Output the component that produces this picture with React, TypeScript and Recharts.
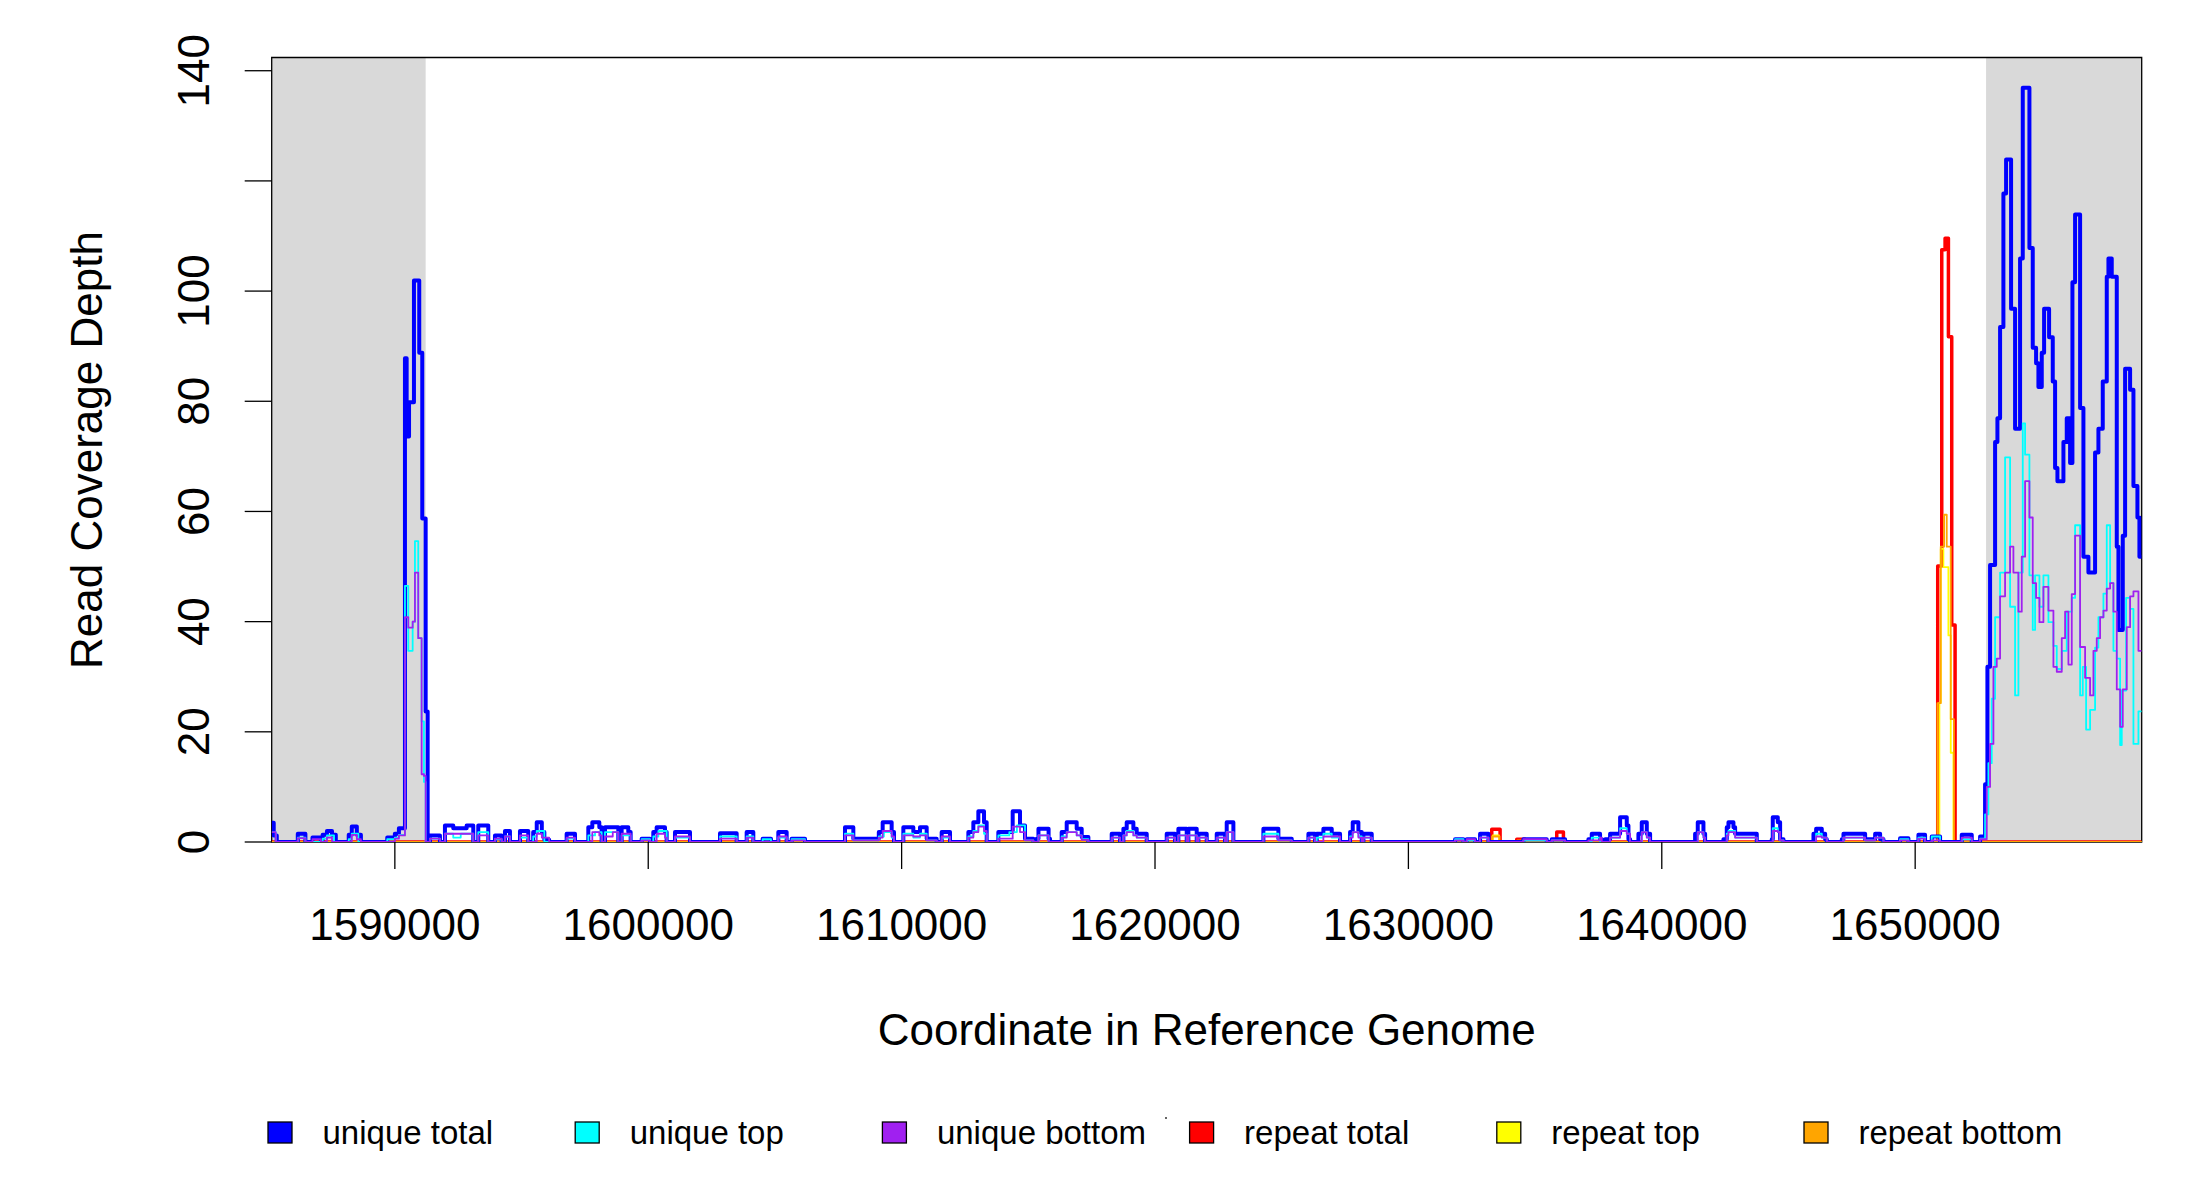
import React from 'react'
import { LineChart, Line, XAxis, YAxis, ReferenceArea } from 'recharts'

// axis ranges
const X_MIN = 1585140
const X_MAX = 1658940
const Y_MAX = 142.4
const X_TICKS = [1590000, 1600000, 1610000, 1620000, 1630000, 1640000, 1650000]
const Y_TICKS = [0, 20, 40, 60, 80, 100, 120, 140]
const Y_HIDDEN = [120]
// shaded flanking regions
const FLANKS: [number, number][] = [
  [X_MIN, 1591216],
  [1652798, X_MAX],
]

// each series: [start coordinate, depth] — depth holds until the next step
const uniqueTotal: [number, number][] = [
  [1585140, 3.5], [1585220, 1.2], [1585340, 0],
  [1586170, 1.5], [1586470, 0],
  [1586750, 0.8], [1587080, 0],
  [1587150, 1.3], [1587320, 2.0], [1587520, 1.3], [1587670, 0],
  [1588180, 1.3], [1588300, 2.8], [1588500, 1.3], [1588660, 0],
  [1589700, 0.8], [1590000, 1.5], [1590160, 2.5],
  [1590399, 87.8], [1590466, 73.6], [1590560, 79.8], [1590754, 101.9], [1590963, 88.8], [1591082, 58.7], [1591216, 23.7], [1591295, 0],
  [1591385, 1.2], [1591780, 0],
  [1591977, 3.0], [1592305, 2.5], [1592834, 3.0], [1593095, 0],
  [1593292, 3.0], [1593687, 0],
  [1593951, 1.2], [1594215, 0],
  [1594346, 2.0], [1594543, 0],
  [1594938, 2.0], [1595265, 0],
  [1595460, 1.8], [1595600, 3.6], [1595800, 1.8], [1595900, 0.4], [1596090, 0],
  [1596780, 1.5], [1597110, 0],
  [1597635, 2.7], [1597793, 3.6], [1598069, 2.7], [1598161, 0],
  [1598293, 2.7], [1598819, 0],
  [1598951, 2.7], [1599213, 1.8], [1599306, 0],
  [1599740, 0.6], [1600069, 0],
  [1600200, 1.8], [1600332, 2.7], [1600661, 1.8], [1600727, 0],
  [1601056, 1.8], [1601648, 0],
  [1602832, 1.6], [1603490, 0],
  [1603885, 1.8], [1604147, 0],
  [1604516, 0.6], [1604845, 0],
  [1605134, 1.8], [1605463, 0],
  [1605660, 0.6], [1606187, 0],
  [1607765, 2.7], [1608094, 0.6], [1609100, 1.8], [1609252, 3.6], [1609607, 1.8], [1609700, 0],
  [1610068, 2.7], [1610462, 1.8], [1610725, 2.7], [1610989, 0.6], [1611383, 0],
  [1611581, 1.8], [1611910, 0],
  [1612634, 1.8], [1612831, 3.6], [1613028, 5.6], [1613252, 3.6], [1613357, 0],
  [1613817, 1.8], [1614383, 5.6], [1614672, 3.0], [1614870, 0.6], [1615199, 0],
  [1615331, 0.6], [1615400, 2.4], [1615800, 0.6], [1615857, 0],
  [1616317, 1.8], [1616515, 3.6], [1616909, 2.4], [1617107, 0.9], [1617370, 0],
  [1618291, 1.5], [1618620, 0],
  [1618752, 2.4], [1618883, 3.6], [1619146, 2.4], [1619278, 1.5], [1619673, 0],
  [1620462, 1.5], [1620791, 0],
  [1620922, 2.4], [1621251, 0],
  [1621317, 2.4], [1621646, 0],
  [1621712, 1.5], [1622041, 0],
  [1622436, 1.5], [1622764, 0],
  [1622830, 3.6], [1623093, 0],
  [1624277, 2.4], [1624869, 0.6], [1625396, 0],
  [1626054, 1.5], [1626317, 0],
  [1626382, 1.5], [1626645, 2.4], [1626975, 1.5], [1627303, 0],
  [1627698, 1.8], [1627803, 3.6], [1628027, 1.8], [1628159, 0],
  [1628224, 1.5], [1628553, 0],
  [1631842, 0.5], [1632171, 0],
  [1632303, 0.5], [1632631, 0],
  [1632829, 1.5], [1633158, 0],
  [1634539, 0.5], [1635460, 0],
  [1635657, 0.5], [1636184, 0],
  [1637104, 0.5], [1637236, 1.5], [1637565, 0.5], [1637631, 0],
  [1637763, 0.5], [1637960, 1.5], [1638355, 4.5], [1638618, 3.0], [1638684, 0.5], [1638750, 0],
  [1639078, 1.5], [1639210, 3.6], [1639408, 1.5], [1639539, 0],
  [1641315, 1.5], [1641420, 3.6], [1641644, 1.5], [1641710, 0],
  [1642433, 0.5], [1642565, 2.7], [1642631, 3.6], [1642828, 2.7], [1642894, 1.5], [1643749, 0],
  [1644341, 0.5], [1644380, 4.5], [1644578, 3.6], [1644670, 0.5], [1644802, 0],
  [1645986, 1.5], [1646091, 2.4], [1646315, 1.5], [1646447, 0.5], [1646512, 0],
  [1647104, 0.5], [1647170, 1.5], [1648025, 0.5], [1648420, 1.5], [1648617, 0.5], [1648749, 0],
  [1649404, 0.7], [1649733, 0],
  [1650128, 1.3], [1650391, 0],
  [1650654, 1.0], [1650983, 0],
  [1651838, 1.3], [1652233, 0],
  [1652562, 1.0], [1652759, 10.5], [1652851, 31.8], [1652956, 50.3], [1653154, 72.6], [1653246, 76.9],
  [1653351, 93.5], [1653482, 117.7], [1653588, 123.9], [1653785, 96.8], [1653943, 75.0], [1654140, 105.9],
  [1654246, 136.9], [1654509, 107.8], [1654640, 89.7], [1654772, 86.9], [1654864, 82.6], [1654996, 88.8],
  [1655088, 96.8], [1655285, 91.6], [1655430, 83.6], [1655522, 67.9], [1655614, 65.5], [1655851, 72.6],
  [1655982, 76.9], [1656114, 68.8], [1656206, 101.6], [1656311, 113.9], [1656509, 78.8], [1656640, 51.8],
  [1656837, 48.9], [1657100, 70.7], [1657232, 75.0], [1657403, 83.6], [1657561, 102.6], [1657627, 105.9],
  [1657758, 102.6], [1657956, 53.6], [1658022, 38.5], [1658193, 55.6], [1658285, 85.9], [1658482, 82.1],
  [1658614, 64.6], [1658771, 58.9], [1658850, 51.8],
]

const uniqueTop: [number, number][] = [
  [1585140, 1.8], [1585300, 0],
  [1586170, 0.8], [1586470, 0],
  [1587150, 0.6], [1587320, 1.2], [1587600, 0],
  [1588180, 0.5], [1588300, 1.5], [1588560, 0],
  [1589700, 0.5], [1590000, 0.8], [1590160, 1.3],
  [1590399, 46.5], [1590530, 34.7], [1590703, 40.0], [1590793, 54.6], [1590924, 37.0], [1591057, 21.9], [1591149, 10.9], [1591216, 0],
  [1591385, 0.6], [1591780, 0],
  [1591977, 1.5], [1592305, 0.8], [1592600, 1.5], [1593095, 0],
  [1593292, 1.8], [1593687, 0],
  [1593951, 0.5], [1594215, 0],
  [1594346, 1.0], [1594543, 0],
  [1594938, 0.8], [1595265, 0],
  [1595460, 1.0], [1595600, 2.0], [1595900, 0],
  [1596780, 0.6], [1597110, 0],
  [1597635, 1.2], [1597900, 1.8], [1598161, 0],
  [1598293, 1.8], [1598819, 0],
  [1598951, 1.2], [1599306, 0],
  [1599740, 0.5], [1600069, 0],
  [1600200, 1.0], [1600400, 2.0], [1600727, 0],
  [1601056, 0.8], [1601648, 0],
  [1602832, 1.0], [1603490, 0],
  [1603885, 1.0], [1604147, 0],
  [1604516, 0.5], [1604845, 0],
  [1605134, 0.8], [1605463, 0],
  [1605660, 0.5], [1606187, 0],
  [1607765, 1.5], [1608094, 0.3], [1609100, 1.0], [1609300, 1.8], [1609607, 0.8], [1609700, 0],
  [1610068, 1.5], [1610462, 0.8], [1610725, 1.5], [1610989, 0.3], [1611383, 0],
  [1611581, 0.8], [1611910, 0],
  [1612634, 1.0], [1612831, 2.0], [1613028, 3.0], [1613252, 1.5], [1613357, 0],
  [1613817, 1.2], [1614250, 1.8], [1614550, 3.0], [1614870, 0.3], [1615199, 0],
  [1615400, 1.2], [1615800, 0],
  [1616317, 1.0], [1616515, 1.8], [1616909, 1.2], [1617107, 0.5], [1617370, 0],
  [1618291, 0.8], [1618620, 0],
  [1618752, 1.2], [1618883, 2.0], [1619146, 1.2], [1619278, 0.8], [1619673, 0],
  [1620462, 0.8], [1620791, 0],
  [1620922, 1.2], [1621251, 0],
  [1621317, 1.2], [1621646, 0],
  [1621712, 0.8], [1622041, 0],
  [1622436, 0.8], [1622764, 0],
  [1622830, 1.8], [1623093, 0],
  [1624277, 1.5], [1624869, 0.3], [1625396, 0],
  [1626054, 0.8], [1626317, 0],
  [1626382, 0.8], [1626645, 1.5], [1626975, 0.8], [1627303, 0],
  [1627698, 1.0], [1627803, 1.8], [1628027, 1.0], [1628159, 0],
  [1628224, 0.8], [1628553, 0],
  [1631842, 0.5], [1632171, 0],
  [1632303, 0.3], [1632631, 0],
  [1632829, 0.8], [1633158, 0],
  [1634539, 0.3], [1635460, 0],
  [1635657, 0.3], [1636184, 0],
  [1637236, 0.8], [1637565, 0],
  [1637960, 0.8], [1638355, 2.5], [1638618, 1.5], [1638750, 0],
  [1639210, 1.8], [1639408, 0.8], [1639539, 0],
  [1641420, 1.8], [1641644, 0.8], [1641710, 0],
  [1642565, 1.5], [1642631, 2.0], [1642894, 0.8], [1643749, 0],
  [1644380, 2.5], [1644578, 1.8], [1644670, 0.3], [1644802, 0],
  [1646091, 1.5], [1646315, 0.8], [1646512, 0],
  [1647170, 0.8], [1648025, 0.3], [1648420, 0.8], [1648749, 0],
  [1649404, 0.5], [1649733, 0],
  [1650128, 0.8], [1650391, 0],
  [1650654, 1.0], [1650983, 0],
  [1651838, 0.5], [1652233, 0],
  [1652562, 0.6], [1652759, 5.0], [1652890, 14.3], [1653022, 26.0], [1653154, 40.8], [1653351, 48.9],
  [1653548, 69.8], [1653746, 42.7], [1653943, 26.6], [1654075, 48.9], [1654246, 76.0], [1654338, 70.3],
  [1654509, 48.4], [1654640, 38.5], [1654732, 48.4], [1654904, 42.7], [1655061, 48.4], [1655259, 39.9],
  [1655456, 35.6], [1655588, 31.4], [1655785, 34.7], [1655982, 41.8], [1656180, 44.3], [1656311, 57.5],
  [1656509, 26.6], [1656614, 31.8], [1656746, 20.4], [1656903, 24.0], [1657100, 35.3], [1657232, 40.8],
  [1657430, 45.1], [1657561, 57.5], [1657693, 47.0], [1657824, 34.7], [1657956, 33.3], [1658088, 17.6],
  [1658153, 27.5], [1658324, 44.3], [1658482, 42.3], [1658614, 17.8], [1658811, 23.7],
]

const uniqueBottom: [number, number][] = [
  [1585140, 1.8], [1585300, 0],
  [1586170, 0.7], [1586470, 0],
  [1586750, 0.5], [1587080, 0],
  [1587320, 0.8], [1587520, 0],
  [1588300, 1.3], [1588500, 0.5], [1588660, 0],
  [1590000, 0.6], [1590160, 1.2],
  [1590399, 40.8], [1590530, 38.9], [1590703, 40.0], [1590793, 48.9], [1590924, 37.0], [1591057, 12.3], [1591149, 12.0], [1591216, 0],
  [1591385, 0.6], [1591780, 0],
  [1591977, 1.5], [1593095, 0],
  [1593292, 1.2], [1593687, 0],
  [1593951, 0.6], [1594215, 0],
  [1594346, 1.0], [1594543, 0],
  [1594938, 1.2], [1595265, 0],
  [1595600, 1.5], [1595800, 0.8], [1596090, 0],
  [1596780, 0.8], [1597110, 0],
  [1597793, 1.8], [1598069, 1.2], [1598161, 0],
  [1598293, 1.0], [1598600, 1.8], [1598819, 0],
  [1598951, 1.5], [1599306, 0],
  [1599740, 0.3], [1600069, 0],
  [1600332, 1.5], [1600661, 0.8], [1600727, 0],
  [1601056, 1.0], [1601648, 0],
  [1602832, 0.6], [1603490, 0],
  [1603885, 0.8], [1604147, 0],
  [1605134, 1.0], [1605463, 0],
  [1605660, 0.3], [1606187, 0],
  [1607765, 1.2], [1608094, 0.3], [1609100, 0.8], [1609252, 2.0], [1609607, 1.0], [1609700, 0],
  [1610068, 1.2], [1610462, 1.0], [1610725, 1.2], [1610989, 0.3], [1611383, 0],
  [1611581, 1.0], [1611910, 0],
  [1612634, 0.8], [1612831, 1.8], [1613028, 2.8], [1613252, 2.0], [1613357, 0],
  [1613817, 0.6], [1614383, 2.8], [1614672, 1.8], [1614870, 0.3], [1615199, 0],
  [1615400, 1.2], [1615800, 0],
  [1616317, 0.8], [1616515, 1.8], [1616909, 1.2], [1617107, 0.4], [1617370, 0],
  [1618291, 0.8], [1618620, 0],
  [1618752, 1.2], [1618883, 1.8], [1619146, 1.2], [1619278, 0.8], [1619673, 0],
  [1620462, 0.8], [1620791, 0],
  [1620922, 1.2], [1621251, 0],
  [1621317, 1.2], [1621646, 0],
  [1621712, 0.8], [1622041, 0],
  [1622436, 0.8], [1622764, 0],
  [1622830, 1.8], [1623093, 0],
  [1624277, 1.0], [1624869, 0.3], [1625396, 0],
  [1626054, 0.8], [1626317, 0],
  [1626645, 1.0], [1627303, 0],
  [1627698, 0.8], [1627803, 1.8], [1628027, 0.8], [1628159, 0],
  [1628224, 0.8], [1628553, 0],
  [1631842, 0.3], [1632171, 0],
  [1632303, 0.5], [1632631, 0],
  [1632829, 0.8], [1633158, 0],
  [1634539, 0.5], [1635460, 0],
  [1635657, 0.3], [1636184, 0],
  [1637104, 0.3], [1637565, 0.8], [1637631, 0],
  [1637960, 0.8], [1638355, 2.0], [1638618, 1.5], [1638750, 0],
  [1639210, 1.8], [1639408, 0.8], [1639539, 0],
  [1641420, 1.8], [1641644, 0.8], [1641710, 0],
  [1642565, 1.2], [1642631, 1.8], [1642894, 0.8], [1643749, 0],
  [1644380, 2.0], [1644578, 1.8], [1644670, 0.3], [1644802, 0],
  [1646091, 1.0], [1646315, 0.8], [1646512, 0],
  [1647170, 0.8], [1648025, 0.3], [1648420, 0.8], [1648749, 0],
  [1649404, 0.3], [1649733, 0],
  [1650128, 0.6], [1650391, 0],
  [1650654, 0.3], [1650983, 0],
  [1651838, 0.8], [1652233, 0],
  [1652562, 0.5], [1652825, 10.0], [1652956, 17.8], [1653088, 31.8], [1653220, 33.3], [1653351, 44.6],
  [1653548, 48.9], [1653746, 53.6], [1653877, 48.9], [1654075, 41.8], [1654206, 51.8], [1654338, 65.5],
  [1654509, 58.9], [1654640, 47.0], [1654772, 44.3], [1654904, 39.9], [1655061, 46.3], [1655259, 42.0],
  [1655456, 31.8], [1655588, 30.9], [1655785, 37.0], [1655917, 41.8], [1656048, 32.2], [1656180, 45.0],
  [1656311, 55.6], [1656509, 35.4], [1656706, 29.8], [1656903, 26.6], [1657035, 34.7], [1657166, 37.0],
  [1657298, 40.8], [1657430, 42.0], [1657561, 46.0], [1657693, 47.0], [1657824, 41.8], [1657956, 27.7],
  [1658088, 20.9], [1658193, 27.7], [1658351, 39.0], [1658482, 44.6], [1658614, 45.5], [1658811, 34.7],
]

const repeatTotal: [number, number][] = [
  [1633290, 2.3], [1633619, 0],
  [1634276, 0.5], [1634605, 0],
  [1635855, 1.8], [1636118, 0],
  [1650890, 50.1], [1651049, 107.5], [1651180, 109.6], [1651312, 91.7], [1651443, 39.4], [1651575, 0],
]

const repeatTop: [number, number][] = [
  [1633330, 1.2], [1633580, 0],
  [1650956, 25.3], [1651009, 53.2], [1651114, 49.9], [1651311, 37.5], [1651404, 16.2], [1651509, 0],
]

const repeatBottom: [number, number][] = [
  [1633300, 1.0], [1633600, 0],
  [1634300, 0.3], [1634600, 0],
  [1650877, 25.2], [1651009, 53.6], [1651141, 59.4], [1651246, 53.6], [1651404, 22.3], [1651530, 0],
]

const FONT = '"Liberation Sans", Arial, Helvetica, sans-serif'

// drawing order: repeats underneath, unique series on top
const SERIES = [
  { key: 'rt', name: 'repeat total', color: '#ff0000', width: 3.5, steps: repeatTotal },
  { key: 'rtop', name: 'repeat top', color: '#ffff00', width: 1.8, steps: repeatTop },
  { key: 'rb', name: 'repeat bottom', color: '#ffa500', width: 1.8, steps: repeatBottom },
  { key: 'ut', name: 'unique total', color: '#0000ff', width: 4, steps: uniqueTotal },
  { key: 'utop', name: 'unique top', color: '#00ffff', width: 1.8, steps: uniqueTop },
  { key: 'ub', name: 'unique bottom', color: '#a020f0', width: 1.8, steps: uniqueBottom },
]
const LEGEND_ORDER = ['ut', 'utop', 'ub', 'rt', 'rtop', 'rb']

function valueAt(steps: [number, number][], x: number) {
  let v = 0
  for (const [p, val] of steps) {
    if (p <= x) v = val
    else break
  }
  return v
}

const positions = Array.from(
  new Set([X_MIN, X_MAX, ...SERIES.flatMap((s) => s.steps.map((d) => d[0]))])
).sort((a, b) => a - b)

const table = positions.map((x) => {
  const row: Record<string, number> = { x }
  SERIES.forEach((s) => {
    row[s.key] = valueAt(s.steps, x)
  })
  return row
})

function XTick({ x, y, payload }: any) {
  return (
    <text x={x} y={y + 71} textAnchor="middle" fontSize={44} fontFamily={FONT} fill="#000">
      {payload.value}
    </text>
  )
}

function YTick({ x, y, payload }: any) {
  if (Y_HIDDEN.includes(payload.value)) return <g />
  return (
    <text
      transform={`translate(${x - 36},${y}) rotate(-90)`}
      textAnchor="middle"
      fontSize={44}
      fontFamily={FONT}
      fill="#000"
    >
      {payload.value}
    </text>
  )
}

export default function App() {
  return (
    <div style={{ position: 'absolute', left: 0, top: 0, width: 2200, height: 1200, background: '#fff' }}>
      <LineChart
        width={2200}
        height={1200}
        data={table}
        margin={{ top: 57.5, right: 58.3, bottom: 0, left: 0 }}
      >
        <XAxis
          dataKey="x"
          type="number"
          domain={[X_MIN, X_MAX]}
          allowDataOverflow
          ticks={X_TICKS}
          interval={0}
          height={358}
          tickSize={27}
          tickMargin={0}
          axisLine={false}
          tickLine={{ stroke: '#000', strokeWidth: 1.3 }}
          tick={<XTick />}
        />
        <YAxis
          type="number"
          domain={[0, Y_MAX]}
          allowDataOverflow
          ticks={Y_TICKS}
          interval={0}
          width={271.7}
          tickSize={27}
          tickMargin={0}
          axisLine={false}
          tickLine={{ stroke: '#000', strokeWidth: 1.3 }}
          tick={<YTick />}
        />
        {FLANKS.map(([a, b], i) => (
          <ReferenceArea
            key={i}
            x1={a}
            x2={b}
            y1={0}
            y2={Y_MAX}
            fill="#d9d9d9"
            fillOpacity={1}
            stroke="none"
            ifOverflow="visible"
          />
        ))}
        {SERIES.map((s) => (
          <Line
            key={s.key}
            dataKey={s.key}
            type="stepAfter"
            stroke={s.color}
            strokeWidth={s.width}
            strokeLinejoin="round"
            dot={false}
            activeDot={false}
            isAnimationActive={false}
          />
        ))}
        <ReferenceArea
          x1={X_MIN}
          x2={X_MAX}
          y1={0}
          y2={Y_MAX}
          fill="none"
          stroke="#000"
          strokeWidth={1.3}
          ifOverflow="visible"
        />
      </LineChart>
      <svg
        width={2200}
        height={1200}
        style={{ position: 'absolute', left: 0, top: 0, pointerEvents: 'none' }}
      >
        <text
          transform="translate(101.5,450) rotate(-90)"
          textAnchor="middle"
          fontSize={44}
          fontFamily={FONT}
          fill="#000"
        >
          Read Coverage Depth
        </text>
        <text x={1206.7} y={1045} textAnchor="middle" fontSize={44} fontFamily={FONT} fill="#000">
          Coordinate in Reference Genome
        </text>
        {LEGEND_ORDER.map((k, i) => {
          const s = SERIES.find((d) => d.key === k)!
          return (
            <g key={k}>
              <rect
                x={268 + 307.2 * i}
                y={1122}
                width={24}
                height={21}
                fill={s.color}
                stroke="#000"
                strokeWidth={1.3}
              />
              <text x={322.5 + 307.2 * i} y={1144} fontSize={33} fontFamily={FONT} fill="#000">
                {s.name}
              </text>
            </g>
          )
        })}
        <rect x={1165} y={1117} width={2} height={2} fill="#666" />
      </svg>
    </div>
  )
}
